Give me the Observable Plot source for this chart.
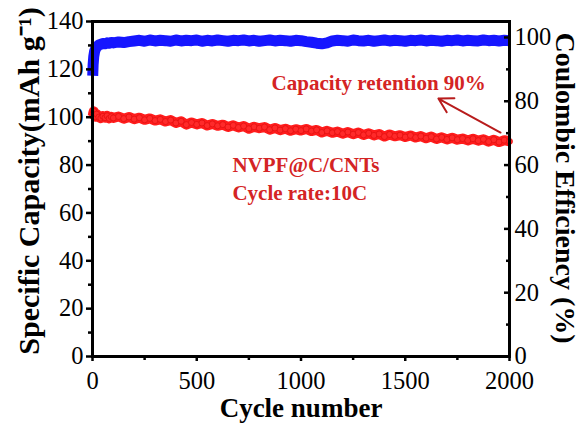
<!DOCTYPE html>
<html><head><meta charset="utf-8">
<script src="https://cdn.jsdelivr.net/npm/d3@7"></script>
<script src="https://cdn.jsdelivr.net/npm/@observablehq/plot@0.6"></script>
<style>body{margin:0;background:#fff}</style>
</head><body><div id="chart"></div>
<script>
const cycles = [1,3,6,10,15,20,30,40,50,60,70,80,90,
100,125,150,175,200,225,250,275,300,325,350,375,400,425,450,475,500,525,550,575,600,625,650,675,700,725,750,775,800,825,850,875,900,925,950,975,
1000,1025,1050,1075,1100,1125,1150,1175,1200,1225,1250,1275,1300,1325,1350,1375,1400,1425,1450,1475,1500,1525,1550,1575,1600,1625,1650,1675,1700,1725,1750,1775,1800,1825,1850,1875,1900,1925,1950,1975,2000];
const capacity = [100.5,101.5,102.5,101.0,100.2,101.3,100.0,99.6,100.4,99.8,100.6,99.5,100.2,
99.7,100.3,99.4,100.1,99.2,99.8,98.9,99.5,98.6,99.1,98.2,98.8,97.6,98.3,96.9,97.8,97.0,97.6,96.5,97.2,96.4,96.9,95.9,96.6,95.7,96.3,95.2,96.0,95.4,95.9,94.8,95.5,94.6,95.2,94.3,95.0,
94.4,95.1,94.2,94.7,93.6,94.3,93.5,94.0,93.1,93.8,92.9,93.6,92.6,93.3,92.4,93.0,91.9,92.8,92.0,92.5,91.7,92.4,91.5,92.1,91.2,91.9,90.9,91.6,90.7,91.4,90.6,91.1,90.3,91.0,90.2,90.8,89.8,90.6,89.6,90.4,89.9];
const efficiency = [88.0,91.5,94.0,95.6,96.5,97.0,97.6,97.9,98.1,98.0,98.3,98.2,98.4,
98.3,98.6,98.4,98.7,98.9,99.1,98.8,99.2,98.9,99.1,99.0,98.8,99.2,98.9,99.1,99.0,99.2,98.8,99.1,98.9,99.2,99.0,98.8,99.1,99.0,99.2,98.9,99.1,98.8,99.0,99.2,98.9,99.1,99.0,98.8,99.1,
99.0,98.7,98.5,98.2,98.0,98.3,98.9,99.1,99.0,98.8,99.2,99.0,98.9,99.1,98.8,99.0,99.2,98.9,99.1,99.0,98.8,99.1,99.0,99.2,98.9,99.1,99.0,98.8,99.1,99.0,99.2,98.9,99.1,99.0,98.9,99.2,99.0,99.1,98.9,99.1,99.0];

const xTicks = [0,500,1000,1500,2000];
const xMinorTicks = [250,750,1250,1750];
const yTicks = [0,20,40,60,80,100,120,140];
const yMinorTicks = [10,30,50,70,90,110,130];
const ceTicks = [0,20,40,60,80,100];
const ceMinorTicks = [10,30,50,70,90];
const capMax = 140;
const ceMax = 105;

const xTitle = "Cycle number";
const yTitle = "Specific Capacity(mAh g\u207B\u00B9)";
const y2Title = "Coulombic Efficiency (%)";
const notes = [
  {cycle: 859, value: 114, text: "Capacity retention 90%"},
  {cycle: 671, value: 79.8, text: "NVPF@C/CNTs"},
  {cycle: 671, value: 68.1, text: "Cycle rate:10C"}
];
const arrows = [{x1: 1957, y1: 93.6, x2: 1659, y2: 107.8}];

const k = capMax / ceMax;
const rows = cycles.map((c, i) => ({cycle: c, capacity: capacity[i], ce: efficiency[i]}));
const blank = () => "";
const plain = v => String(v);

const chart = Plot.plot({
  width: 580,
  height: 423,
  marginTop: 21,
  marginBottom: 67,
  marginLeft: 92,
  marginRight: 71,
  style: {fontFamily: "'Liberation Serif', 'Times New Roman', serif", background: "white", color: "black"},
  x: {domain: [0, 2000]},
  y: {domain: [0, capMax]},
  marks: [
    Plot.line(rows, {x: "cycle", y: "capacity", stroke: "#ff1c1c", strokeWidth: 10, strokeLinecap: "butt"}),
    Plot.dot(rows, {x: "cycle", y: "capacity", r: 3, fill: "#ff2a2a", stroke: "#e31010", strokeWidth: 0.8}),
    Plot.line(rows, {x: "cycle", y: d => d.ce * k, stroke: "#1616ff", strokeWidth: 11, strokeLinecap: "butt"}),
    Plot.frame({stroke: "black", strokeWidth: 3}),
    Plot.axisX({ticks: xTicks, tickFormat: plain, tickSize: 5, tickPadding: 10, fontSize: 24.5, strokeWidth: 2.5, label: null}),
    Plot.axisX({ticks: xMinorTicks, tickSize: 4, tickFormat: blank, strokeWidth: 2.5, label: null}),
    Plot.axisY({ticks: yTicks, tickFormat: plain, tickSize: 6, tickPadding: 3, fontSize: 24.5, strokeWidth: 2.5, label: null}),
    Plot.axisY({ticks: yMinorTicks, tickSize: 4, tickFormat: blank, strokeWidth: 2.5, label: null}),
    Plot.axisY({anchor: "right", ticks: ceTicks.map(v => v * k), tickFormat: v => String(Math.round(v / k)), tickSize: -6, tickPadding: 11, fontSize: 24.5, strokeWidth: 2.5, label: null}),
    Plot.axisY({anchor: "right", ticks: ceMinorTicks.map(v => v * k), tickFormat: blank, tickSize: -4, strokeWidth: 2.5, label: null}),
    Plot.text([xTitle], {frameAnchor: "bottom", dy: 60, lineAnchor: "bottom", textAnchor: "middle", fontSize: 27, fontWeight: "bold"}),
    Plot.text([yTitle], {frameAnchor: "left", rotate: -90, dx: -54, dy: -8, lineAnchor: "bottom", textAnchor: "middle", fontSize: 30, fontWeight: "bold"}),
    Plot.text([y2Title], {frameAnchor: "right", rotate: 90, dx: 46, dy: -1, lineAnchor: "bottom", textAnchor: "middle", fontSize: 28, fontWeight: "bold"}),
    Plot.arrow(arrows, {x1: "x1", y1: "y1", x2: "x2", y2: "y2", stroke: "#b81c1c", strokeWidth: 2, headLength: 12}),
    Plot.text(notes, {x: "cycle", y: "value", text: "text", textAnchor: "start", fill: "#d42424", fontWeight: "bold", fontSize: 21})
  ]
});
document.getElementById("chart").appendChild(chart);
</script>
</body></html>
